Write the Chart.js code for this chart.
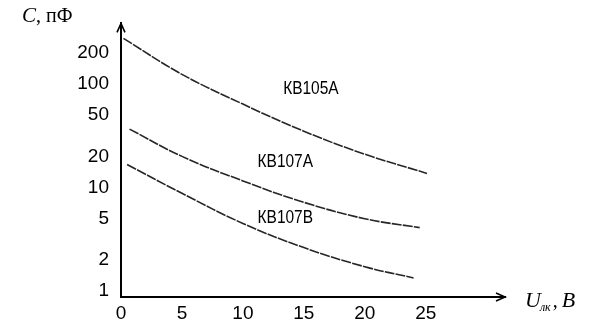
<!DOCTYPE html>
<html>
<head>
<meta charset="utf-8">
<script src="https://cdn.jsdelivr.net/npm/chart.js@4/dist/chart.umd.min.js"></script>
<style>
  html, body { margin: 0; padding: 0; background: #fff; }
  #wrap { width: 595px; height: 326px; position: relative; }
</style>
</head>
<body>
<div id="wrap"><canvas id="c" width="595" height="326"></canvas></div>
<script>
// ---- data ----
const xTicks = [0, 5, 10, 15, 20, 25];
const yTicks = [1, 2, 5, 10, 20, 50, 100, 200];

const seriesNames = ['КВ105А', 'КВ107А', 'КВ107В'];

const volts105A = [0.2, 5, 10, 15, 20, 25.1];
const cap105A   = [276, 124, 64, 35, 21, 13.7];

const volts107A = [0.7, 5, 10, 15, 20, 24.5];
const cap107A   = [36.7, 20, 11.6, 7.2, 5.0, 4.1];

const volts107B = [0.5, 5, 10, 15, 20, 24.0];
const cap107B   = [16.7, 8.8, 4.5, 2.63, 1.72, 1.34];

// label anchors, in data units (voltage, capacitance)
const labelAnchorX = [13.3, 11.2, 11.2];
const labelAnchorY = [90, 17.8, 5.1];

const pairs = (xs, ys) => xs.map((x, i) => ({ x: x, y: ys[i] }));

const tickFont = "'Liberation Sans', Arial, sans-serif";
const serif = "'Liberation Serif', 'DejaVu Serif', serif";

const decor = {
  id: 'decor',
  afterDraw(chart) {
    const ctx = chart.ctx;
    const a = chart.chartArea;
    const xs = chart.scales.x, ys = chart.scales.y;
    ctx.save();
    // arrow heads
    ctx.strokeStyle = '#000';
    ctx.fillStyle = '#000';
    ctx.lineWidth = 1.6;
    ctx.beginPath();
    ctx.moveTo(a.left - 4, a.top + 9);
    ctx.lineTo(a.left, a.top);
    ctx.lineTo(a.left + 4, a.top + 9);
    ctx.stroke();
    ctx.beginPath();
    ctx.moveTo(a.right - 9, a.bottom - 4);
    ctx.lineTo(a.right, a.bottom);
    ctx.lineTo(a.right - 9, a.bottom + 4);
    ctx.stroke();

    // curve labels (condensed look)
    ctx.font = "18px " + tickFont;
    ctx.textAlign = 'left';
    ctx.textBaseline = 'middle';
    seriesNames.forEach((n, i) => {
      ctx.save();
      ctx.translate(xs.getPixelForValue(labelAnchorX[i]), ys.getPixelForValue(labelAnchorY[i]));
      ctx.scale(0.86, 1);
      ctx.fillText(n, 0, 0);
      ctx.restore();
    });

    // y axis title: C, пФ
    ctx.textBaseline = 'alphabetic';
    ctx.font = "italic 21px " + serif;
    ctx.fillText('C', 22, 22);
    let w = ctx.measureText('C').width;
    ctx.font = "20px " + serif;
    ctx.fillText(', пФ', 22 + w, 22);

    // x axis title: U_лк, B
    let x0 = 525, yb = 307;
    ctx.font = "italic 22px " + serif;
    ctx.fillText('U', x0, yb);
    x0 += ctx.measureText('U').width;
    ctx.font = "italic 12px " + serif;
    ctx.fillText('лк', x0 - 1, yb + 4);
    x0 += ctx.measureText('лк').width;
    ctx.font = "20px " + serif;
    ctx.fillText(',', x0 + 1, yb);
    x0 += ctx.measureText(', ').width;
    ctx.font = "italic 22px " + serif;
    ctx.fillText('B', x0, yb);
    ctx.restore();
  }
};

const lineStyle = {
  borderColor: '#262626',
  borderWidth: 1.6,
  borderDash: [10, 1.2],
  pointRadius: 0,
  fill: false,
  tension: 0.4
};

new Chart(document.getElementById('c'), {
  type: 'line',
  data: {
    datasets: [
      Object.assign({ label: seriesNames[0], data: pairs(volts105A, cap105A) }, lineStyle),
      Object.assign({ label: seriesNames[1], data: pairs(volts107A, cap107A) }, lineStyle),
      Object.assign({ label: seriesNames[2], data: pairs(volts107B, cap107B) }, lineStyle)
    ]
  },
  options: {
    responsive: false,
    animation: false,
    devicePixelRatio: 1,
    layout: { padding: { left: 0, top: 20, right: 90, bottom: 0 } },
    plugins: { legend: { display: false }, tooltip: { enabled: false } },
    scales: {
      x: {
        type: 'linear',
        min: 0,
        max: 31.5,
        grid: { display: false, drawTicks: false },
        border: { display: true, color: '#000', width: 2 },
        afterBuildTicks: s => { s.ticks = xTicks.map(v => ({ value: v })); },
        afterFit: s => { s.height = 29; },
        ticks: {
          padding: 5,
          color: '#000',
          font: { family: tickFont, size: 19 },
          maxRotation: 0,
          autoSkip: false,
          callback: v => String(v)
        }
      },
      y: {
        type: 'logarithmic',
        min: 0.877,
        max: 385,
        grid: { display: false, drawTicks: false },
        border: { display: true, color: '#000', width: 2 },
        afterBuildTicks: s => { s.ticks = yTicks.map(v => ({ value: v })); },
        afterFit: s => { s.width = 121; },
        ticks: {
          padding: 12,
          color: '#000',
          font: { family: tickFont, size: 19 },
          autoSkip: false,
          callback: v => String(v)
        }
      }
    }
  },
  plugins: [decor]
});
</script>
</body>
</html>
